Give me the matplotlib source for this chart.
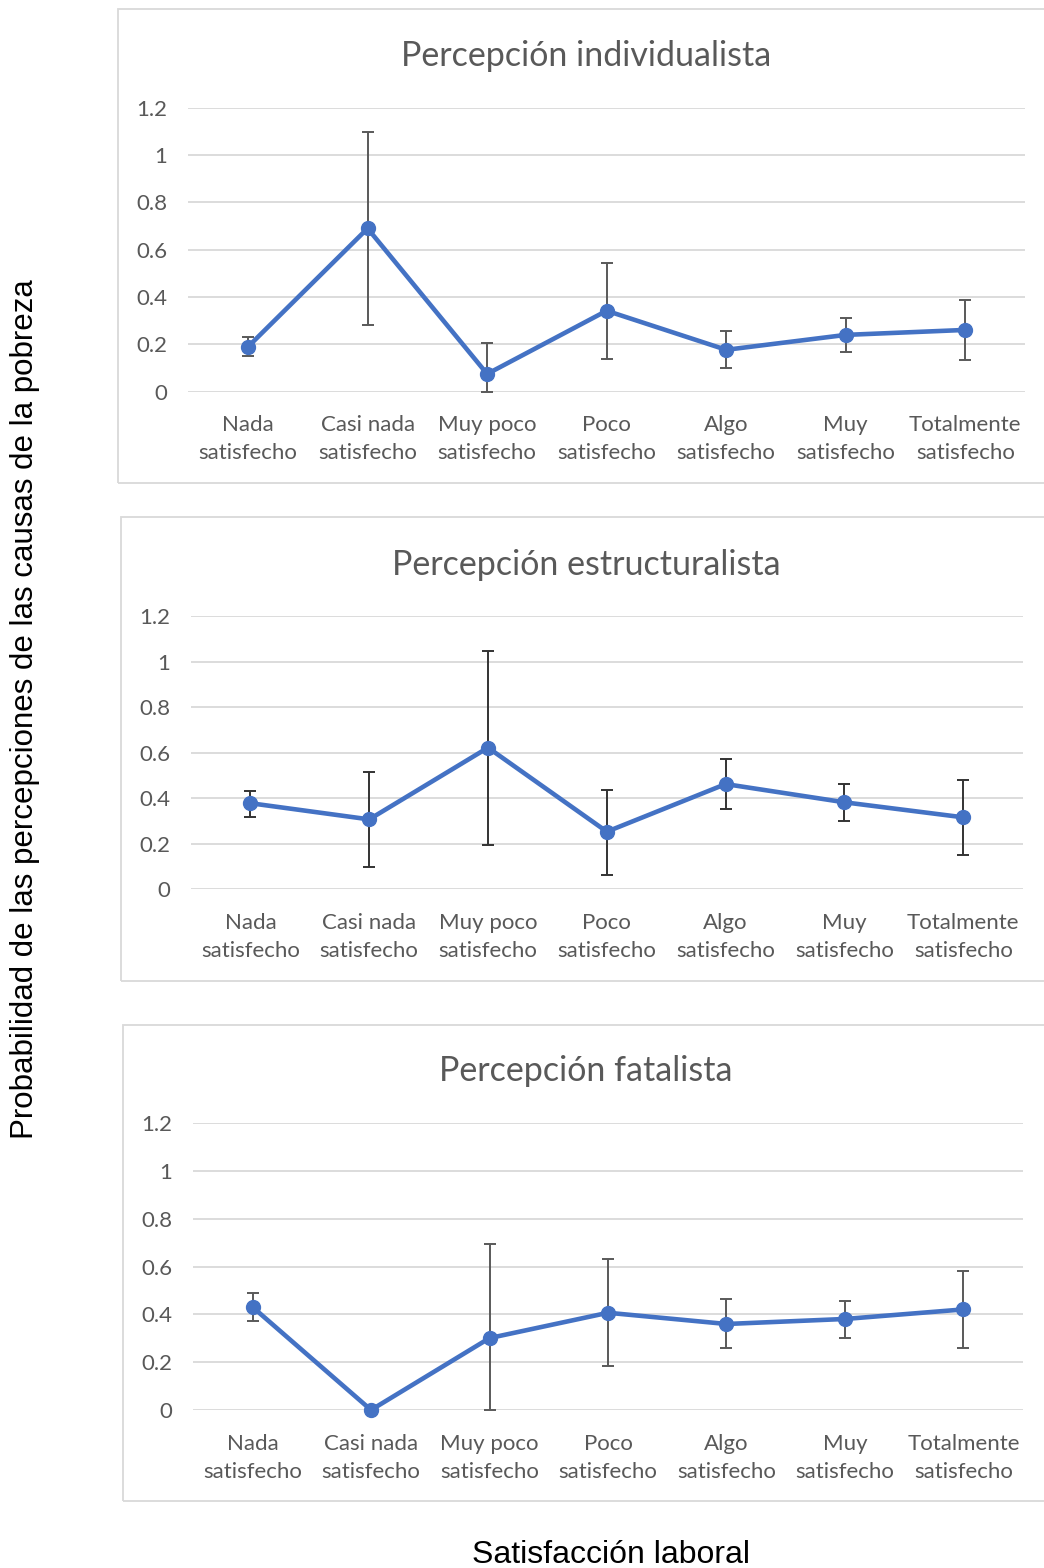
import numpy as np
import matplotlib
matplotlib.use("Agg")
import matplotlib.pyplot as plt
from matplotlib.patches import Rectangle

categories = ["Nada\nsatisfecho", "Casi nada\nsatisfecho", "Muy poco\nsatisfecho",
              "Poco\nsatisfecho", "Algo\nsatisfecho", "Muy\nsatisfecho",
              "Totalmente\nsatisfecho"]
yticks = [0, 0.2, 0.4, 0.6, 0.8, 1, 1.2]
ytick_labels = ["0", "0.2", "0.4", "0.6", "0.8", "1", "1.2"]

# probabilities and interval bounds per perception type
individualista = [0.190, 0.690, 0.075, 0.342, 0.177, 0.240, 0.261]
indiv_low = [0.152, 0.283, 0.000, 0.138, 0.099, 0.169, 0.135]
indiv_high = [0.230, 1.097, 0.204, 0.545, 0.256, 0.311, 0.387]

estructuralista = [0.378, 0.307, 0.622, 0.253, 0.462, 0.382, 0.316]
estr_low = [0.317, 0.099, 0.194, 0.061, 0.351, 0.298, 0.152]
estr_high = [0.433, 0.515, 1.046, 0.437, 0.571, 0.461, 0.480]

fatalista = [0.431, 0.000, 0.301, 0.407, 0.360, 0.381, 0.421]
fat_low = [0.374, 0.000, 0.000, 0.183, 0.258, 0.300, 0.258]
fat_high = [0.488, 0.000, 0.695, 0.632, 0.465, 0.456, 0.583]

titles = ["Percepción individualista", "Percepción estructuralista", "Percepción fatalista"]

W, H = 1044, 1568
fig = plt.figure(figsize=(W / 100, H / 100), dpi=100)
fig.patch.set_facecolor("white")

FONT = "Lato"
GREY = "#595959"
BLUE = "#4472C4"

# pixel layout: (plot left, plot right, y of 0, y of 1.2, box left, box top, box bottom, title y, err colour)
panels = [
    (188.3, 1025.0, 391.7, 107.7, 118.3, 9.0, 482.7, 56, "#595959"),
    (191.0, 1022.7, 889.3, 616.0, 120.7, 517.3, 980.7, 565, "#333333"),
    (193.3, 1022.7, 1410.0, 1123.3, 122.7, 1025.0, 1501.0, 1071, "#595959"),
]
series = [
    (individualista, indiv_low, indiv_high),
    (estructuralista, estr_low, estr_high),
    (fatalista, fat_low, fat_high),
]

x = np.arange(len(categories)) + 0.5

for (x0, x1, yb, yt, bl, bt, bb, ty, ecol), (vals, lo, hi), title in zip(panels, series, titles):
    # chart area border, runs off the right edge
    fig.patches.append(Rectangle((bl / W, 1 - bb / H), (1080 - bl) / W, (bb - bt) / H,
                                 transform=fig.transFigure, fill=False,
                                 edgecolor="#d9d9d9", linewidth=1.3))
    ax = fig.add_axes([x0 / W, 1 - yb / H, (x1 - x0) / W, (yb - yt) / H])
    vals = np.array(vals)
    yerr = [vals - np.array(lo), np.array(hi) - vals]
    ax.errorbar(x, vals, yerr=yerr, fmt="none", ecolor=ecol, elinewidth=1.4,
                capsize=4.3, capthick=1.4, zorder=2, clip_on=False)
    ax.plot(x, vals, color=BLUE, linewidth=3.3, marker="o", markersize=10,
            zorder=3, clip_on=False)
    ax.set_xlim(0, len(categories))
    ax.set_ylim(0, 1.2)
    ax.set_yticks(yticks)
    ax.set_yticklabels(ytick_labels)
    ax.set_xticks(x)
    ax.set_xticklabels(categories, linespacing=1.5)
    ax.grid(axis="y", color="#d9d9d9", linewidth=1.3, zorder=0)
    ax.set_axisbelow(True)
    for s in ax.spines.values():
        s.set_visible(False)
    ax.tick_params(axis="y", length=0, pad=15, labelsize=16, labelcolor=GREY)
    ax.tick_params(axis="x", length=0, pad=17, labelsize=16, labelcolor=GREY)
    for lab in ax.get_xticklabels() + ax.get_yticklabels():
        lab.set_fontfamily(FONT)
    fig.text(586 / W, 1 - ty / H, title, ha="center", va="center",
             fontsize=24.5, color=GREY, fontfamily=FONT)

fig.text(25 / W, 1 - 709 / H, "Probabilidad de las percepciones de las causas de la pobreza",
         rotation=90, ha="center", va="center", fontsize=22.5, color="black",
         fontfamily="Liberation Sans")
fig.text(611 / W, 1 - 1555 / H, "Satisfacción laboral", ha="center", va="center",
         fontsize=23, color="black", fontfamily="Liberation Sans")

fig.savefig("out.png", dpi=100)
